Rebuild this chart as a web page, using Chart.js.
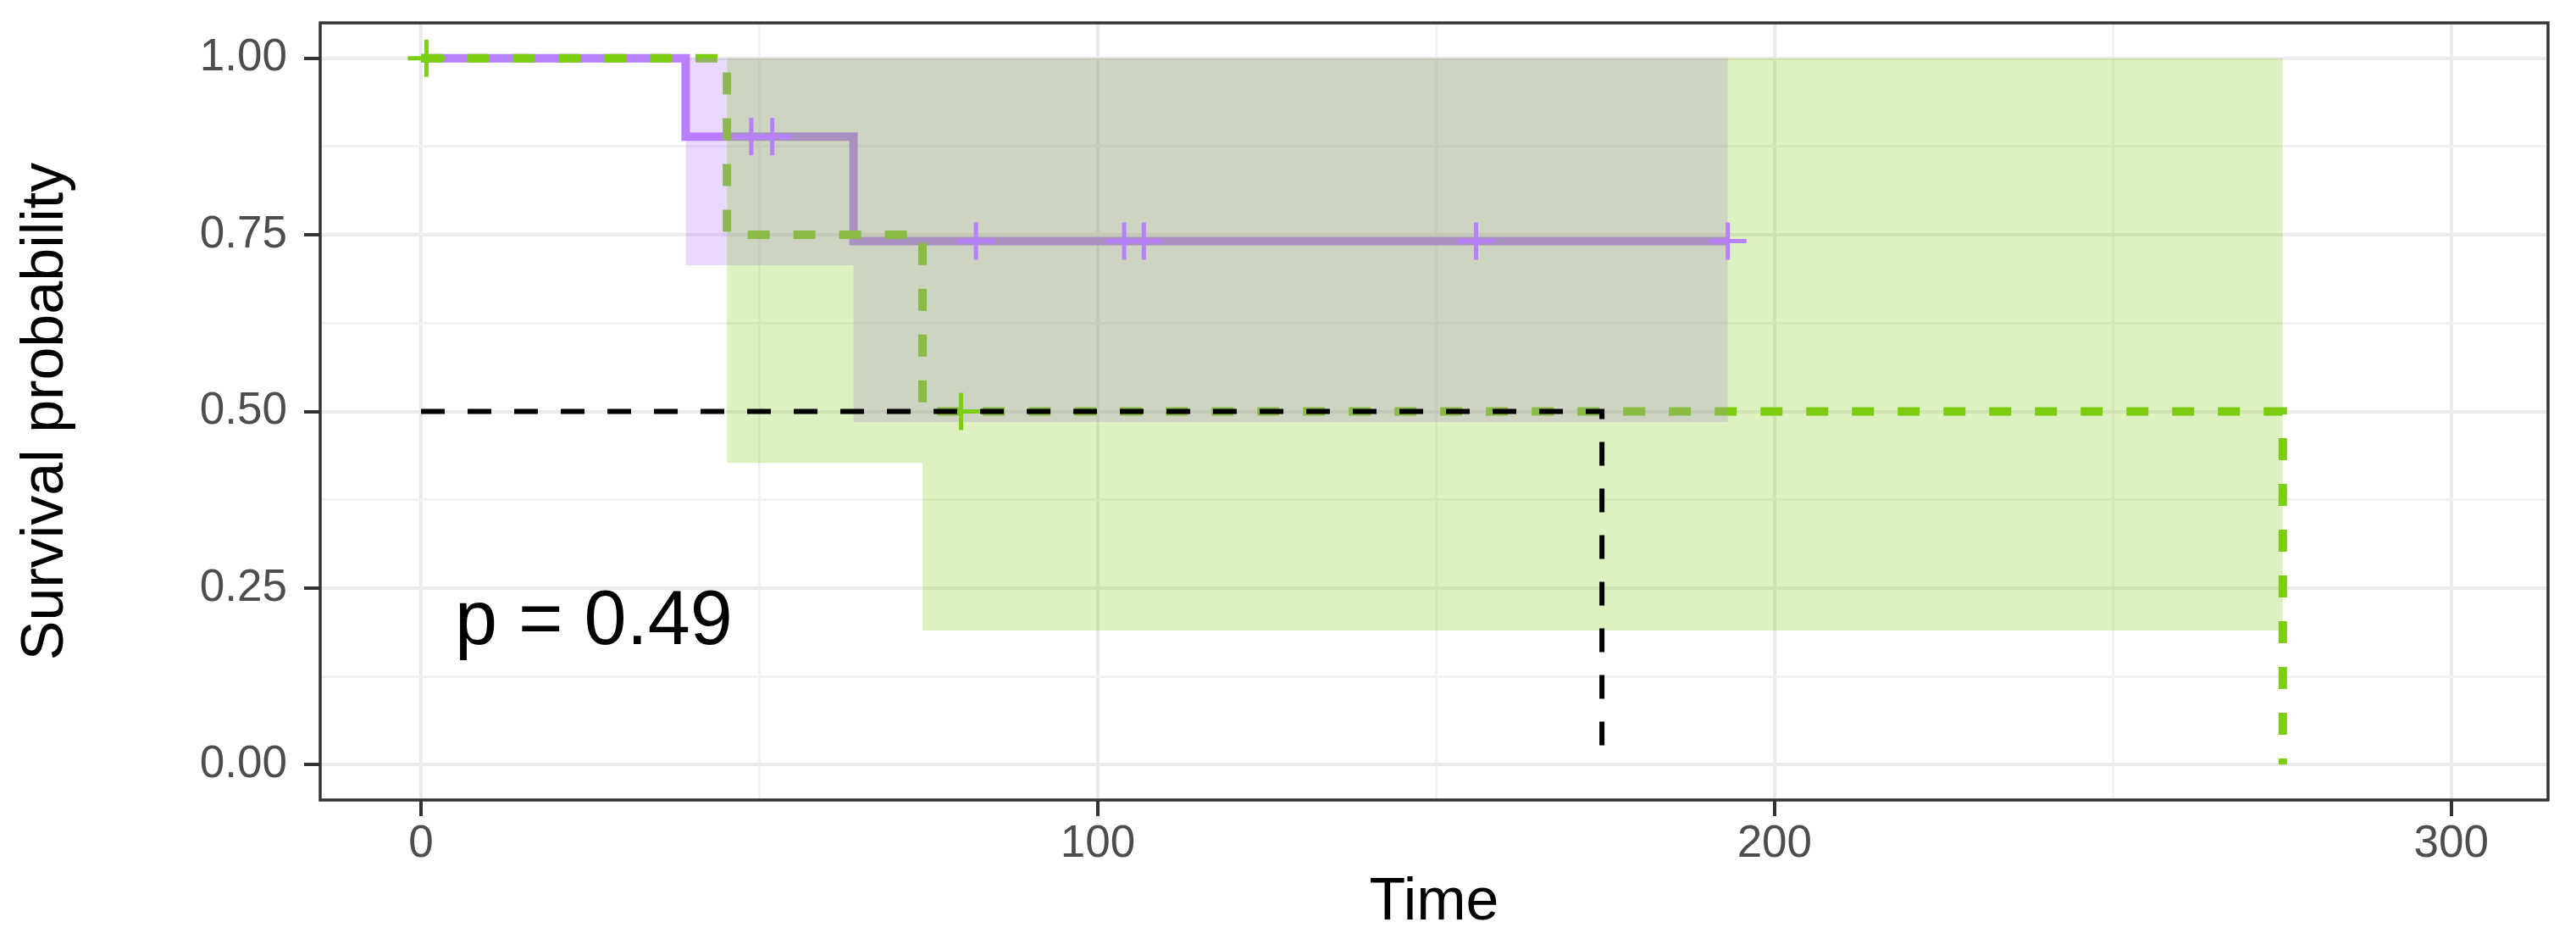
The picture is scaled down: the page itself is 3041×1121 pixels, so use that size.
<!DOCTYPE html>
<html>
<head>
<meta charset="utf-8">
<script src="https://cdn.jsdelivr.net/npm/chart.js@4.4.1/dist/chart.umd.min.js"></script>
<style>
  html, body { margin: 0; padding: 0; background: #ffffff; }
  canvas { display: block; }
</style>
</head>
<body>
<canvas id="km_chart" width="3041" height="1121"></canvas>
<script>
// purple group, solid line
const purpleTimes = [0, 39.1, 63.9, 193.1]
const purpleSurv = [1, 0.889, 0.741, 0.741]
const purpleCiTimes = [39.1, 63.9, 193.1]
const purpleCiUpper = [1, 1, 1]
const purpleCiLower = [0.707, 0.485, 0.485]
const purpleCensorTimes = [48.8, 51.9, 82.0, 103.9, 106.8, 155.9, 193.1]
const purpleCensorSurv = [0.889, 0.889, 0.741, 0.741, 0.741, 0.741, 0.741]

// green group, dashed line
const greenTimes = [0, 45.2, 74.1, 275.1]
const greenSurv = [1, 0.75, 0.5, 0]
const greenCiTimes = [45.2, 74.1, 275.1]
const greenCiUpper = [1, 1, 1]
const greenCiLower = [0.427, 0.19, 0.19]
const greenCensorTimes = [0.8, 79.8]
const greenCensorSurv = [1, 0.5]

// median line
const medianTimes = [0, 174.5, 174.5]
const medianSurv = [0.5, 0.5, 0]

const xMajorTicks = [0, 100, 200, 300]
const xMinorTicks = [50, 150, 250]
const yMajorTicks = [0, 0.25, 0.5, 0.75, 1]
const yMinorTicks = [0.125, 0.375, 0.625, 0.875]
const yTickLabels = ["0.00", "0.25", "0.50", "0.75", "1.00"]

const pValueText = "p = 0.49"
const pValueX = 5.0
const pValueY = 0.2

const fontFamily = "'Liberation Sans', Arial, Helvetica, sans-serif"
const purple = "#B87FFF"
const green = "#7CCF10"
const hidden = "rgba(0,0,0,0)"

function toPoints(xs, ys) {
  return xs.map((x, i) => ({ x: x, y: ys[i] }))
}

// ggplot style panel border + p value label
const panelExtras = {
  id: "panelExtras",
  afterDatasetsDraw(chart) {
    const { ctx, chartArea, scales } = chart
    ctx.save()
    ctx.fillStyle = "#000000"
    ctx.font = "90px " + fontFamily
    ctx.textAlign = "left"
    ctx.textBaseline = "middle"
    ctx.fillText(pValueText, scales.x.getPixelForValue(pValueX), scales.y.getPixelForValue(pValueY))

    ctx.strokeStyle = "#333333"
    ctx.lineWidth = 3.5
    ctx.strokeRect(chartArea.left, chartArea.top, chartArea.right - chartArea.left, chartArea.bottom - chartArea.top)
    ctx.restore()
  }
}

new Chart(document.querySelector("#km_chart"), {
  type: "line",
  data: {
    datasets: [
      {
        data: toPoints(purpleTimes, purpleSurv),
        borderColor: purple,
        borderWidth: 10,
        stepped: "before",
        pointRadius: 0,
        fill: false,
        order: 10
      },
      {
        data: toPoints(greenTimes, greenSurv),
        borderColor: green,
        borderWidth: 10,
        borderDash: [26, 28],
        borderCapStyle: "butt",
        stepped: "before",
        pointRadius: 0,
        fill: false,
        order: 9
      },
      {
        data: toPoints(purpleCiTimes, purpleCiUpper),
        borderColor: hidden,
        borderWidth: 1,
        stepped: "before",
        pointRadius: 0,
        fill: false,
        order: 8
      },
      {
        data: toPoints(purpleCiTimes, purpleCiLower),
        borderColor: hidden,
        borderWidth: 1,
        backgroundColor: "rgba(184,127,255,0.3)",
        stepped: "before",
        pointRadius: 0,
        fill: "-1",
        order: 7
      },
      {
        data: toPoints(greenCiTimes, greenCiUpper),
        borderColor: hidden,
        borderWidth: 1,
        stepped: "before",
        pointRadius: 0,
        fill: false,
        order: 6
      },
      {
        data: toPoints(greenCiTimes, greenCiLower),
        borderColor: hidden,
        borderWidth: 1,
        backgroundColor: "rgba(124,200,16,0.26)",
        stepped: "before",
        pointRadius: 0,
        fill: "-1",
        order: 5
      },
      {
        data: toPoints(purpleCensorTimes, purpleCensorSurv),
        showLine: false,
        pointStyle: "cross",
        pointRadius: 22,
        pointBorderWidth: 5,
        pointBorderColor: purple,
        order: 3
      },
      {
        data: toPoints(greenCensorTimes, greenCensorSurv),
        showLine: false,
        pointStyle: "cross",
        pointRadius: 22,
        pointBorderWidth: 5,
        pointBorderColor: green,
        order: 2
      },
      {
        data: toPoints(medianTimes, medianSurv),
        borderColor: "#000000",
        borderWidth: 6,
        borderDash: [28, 27],
        borderCapStyle: "butt",
        pointRadius: 0,
        fill: false,
        order: 1
      }
    ]
  },
  options: {
    responsive: false,
    animation: false,
    devicePixelRatio: 1,
    layout: { padding: { top: 23, right: 33, left: 0, bottom: 0 } },
    plugins: {
      legend: { display: false },
      tooltip: { enabled: false }
    },
    scales: {
      x: {
        type: "linear",
        min: -14.9,
        max: 314.3,
        afterBuildTicks: (scale) => {
          scale.ticks = xMajorTicks.concat(xMinorTicks).sort((a, b) => a - b).map(v => ({ value: v }))
        },
        afterFit: (scale) => {
          scale.height = 177
          scale.paddingLeft = 0
          scale.paddingRight = 0
        },
        ticks: {
          callback: (value) => xMajorTicks.includes(value) ? String(value) : "",
          color: "#4d4d4d",
          font: { size: 53, family: fontFamily },
          padding: 2,
          maxRotation: 0,
          autoSkip: false
        },
        grid: {
          color: (c) => xMajorTicks.includes(c.tick.value) ? "#ebebeb" : "#f2f2f2",
          lineWidth: (c) => xMajorTicks.includes(c.tick.value) ? 4 : 3,
          tickColor: (c) => xMajorTicks.includes(c.tick.value) ? "#333333" : hidden,
          tickLength: 19,
          tickWidth: 4
        },
        border: { display: false },
        title: {
          display: true,
          text: "Time",
          color: "#000000",
          font: { size: 70, family: fontFamily },
          padding: { top: 0, bottom: 13 }
        }
      },
      y: {
        type: "linear",
        min: -0.05,
        max: 1.05,
        afterBuildTicks: (scale) => {
          scale.ticks = yMajorTicks.concat(yMinorTicks).sort((a, b) => a - b).map(v => ({ value: v }))
        },
        afterFit: (scale) => {
          scale.width = 378
          scale.paddingTop = 0
          scale.paddingBottom = 0
        },
        ticks: {
          callback: (value) => {
            const i = yMajorTicks.indexOf(value)
            return i >= 0 ? yTickLabels[i] : ""
          },
          color: "#4d4d4d",
          font: { size: 53, family: fontFamily },
          padding: 20,
          autoSkip: false
        },
        grid: {
          color: (c) => yMajorTicks.includes(c.tick.value) ? "#ebebeb" : "#f2f2f2",
          lineWidth: (c) => yMajorTicks.includes(c.tick.value) ? 4 : 3,
          tickColor: (c) => yMajorTicks.includes(c.tick.value) ? "#333333" : hidden,
          tickLength: 19,
          tickWidth: 4
        },
        border: { display: false },
        title: {
          display: true,
          text: "Survival probability",
          color: "#000000",
          font: { size: 70, family: fontFamily },
          padding: { top: 13, bottom: 0 }
        }
      }
    }
  },
  plugins: [panelExtras]
})
</script>
</body>
</html>
